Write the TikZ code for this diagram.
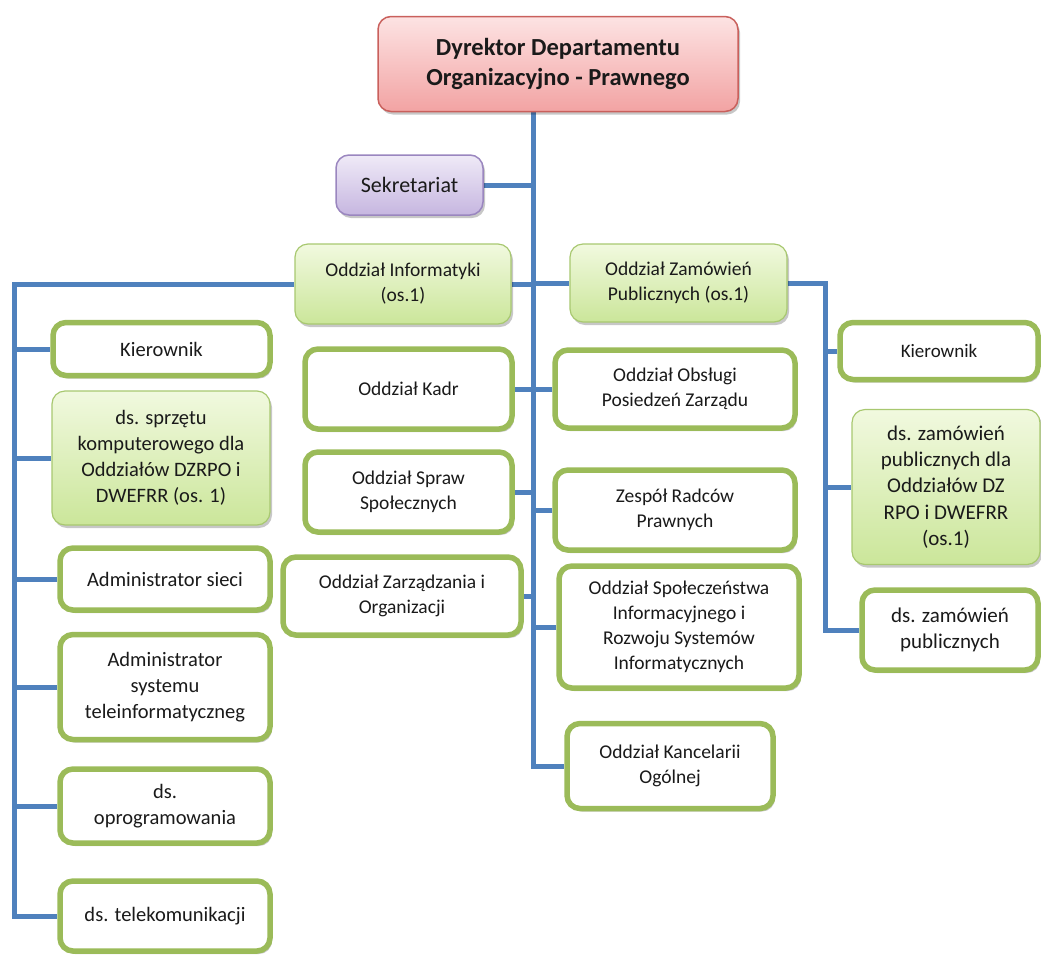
\documentclass[tikz,border=0pt]{standalone}
\usepackage{fontspec}
\setmainfont{Carlito}
\usetikzlibrary{shadows,backgrounds}

\definecolor{linkblue}{HTML}{4F81BD}
\definecolor{greenedge}{HTML}{9BBB59}
\definecolor{greenthin}{HTML}{A8C870}
\definecolor{greentop}{HTML}{F1F9DF}
\definecolor{greenbot}{HTML}{CBE69A}
\definecolor{redtop}{HTML}{FDE3E3}
\definecolor{redbot}{HTML}{F2A3A3}
\definecolor{rededge}{HTML}{C9605C}
\definecolor{purtop}{HTML}{EFEAF7}
\definecolor{purbot}{HTML}{C6B6E0}
\definecolor{puredge}{HTML}{9A86BF}
\definecolor{ink}{HTML}{1A1A1A}

\tikzset{
  base/.style={rectangle, rounded corners=13pt, align=center, inner sep=2pt,
    text=ink, font=\fontsize{19.5}{25}\selectfont,
    drop shadow={shadow xshift=2pt, shadow yshift=-3pt, opacity=0.22, fill=black}},
  plainbox/.style={base, draw=greenedge, line width=5.5pt, fill=white},
  greenbox/.style={base, draw=greenthin, line width=1.2pt, top color=greentop, bottom color=greenbot},
  headbox/.style={base, draw=rededge, line width=1.5pt, top color=redtop, bottom color=redbot,
    font=\fontsize{24.5}{30}\selectfont\bfseries},
  secbox/.style={base, draw=puredge, line width=1.5pt, top color=purtop, bottom color=purbot,
    font=\fontsize{22}{26}\selectfont},
  leftcol/.style={font=\fontsize{20.5}{26}\selectfont},
  rightcol/.style={font=\fontsize{21}{26.3}\selectfont},
  link/.style={draw=linkblue, line width=5pt, line join=miter,
    preaction={draw=black, opacity=0.15, line width=5pt, shift={(1.5,2.5)}}}
}

\begin{document}
\begin{tikzpicture}[x=1pt, y=-1pt]
\useasboundingbox (0,0) rectangle (1041,954);

% bus positions
\coordinate (tx) at (533,0);
\coordinate (lx) at (14,0);
\coordinate (rx) at (825,0);

% head and staff
\node[headbox, minimum width=360pt, minimum height=95pt] (dyr) at (558,64)
  {Dyrektor Departamentu\\Organizacyjno - Prawnego};
\node[secbox, minimum width=147pt, minimum height=60pt] (sek) at (409.5,185) {Sekretariat};

% upper divisions
\node[greenbox, minimum width=216pt, minimum height=80pt] (inf) at (403,284)
  {Oddział Informatyki\\(os.1)};
\node[greenbox, minimum width=217pt, minimum height=78pt] (zam) at (678.5,283)
  {Oddział Zamówień\\Publicznych (os.1)};

% left column: IT staff
\node[plainbox, leftcol, minimum width=217pt, minimum height=53pt] (kierL) at (161.5,349) {Kierownik};
\node[greenbox, leftcol, minimum width=218pt, minimum height=134pt] (sprz) at (161,458)
  {ds. sprzętu\\komputerowego dla\\Oddziałów DZRPO i\\DWEFRR (os. 1)};
\node[plainbox, leftcol, minimum width=210pt, minimum height=62pt] (adms) at (165,579) {Administrator sieci};
\node[plainbox, leftcol, minimum width=210pt, minimum height=105pt] (admt) at (165,687)
  {Administrator\\systemu\\teleinformatyczneg};
\node[plainbox, leftcol, minimum width=210pt, minimum height=74pt] (oprog) at (165,806)
  {ds.\\oprogramowania};
\node[plainbox, leftcol, minimum width=210pt, minimum height=70pt] (tel) at (165,916) {ds. telekomunikacji};

% centre divisions, left side
\node[plainbox, minimum width=207pt, minimum height=80pt] (kadr) at (408.5,389) {Oddział Kadr};
\node[plainbox, minimum width=207pt, minimum height=80pt] (spraw) at (408.5,492)
  {Oddział Spraw\\Społecznych};
\node[plainbox, minimum width=238pt, minimum height=78pt] (zarz) at (402,596)
  {Oddział Zarządzania i\\Organizacji};

% centre divisions, right side
\node[plainbox, minimum width=240pt, minimum height=78pt] (obs) at (675,389)
  {Oddział Obsługi\\Posiedzeń Zarządu};
\node[plainbox, minimum width=240pt, minimum height=80pt] (zesp) at (675,510)
  {Zespół Radców\\Prawnych};
\node[plainbox, minimum width=240pt, minimum height=122pt] (spol) at (679,627)
  {Oddział Społeczeństwa\\Informacyjnego i\\Rozwoju Systemów\\Informatycznych};
\node[plainbox, minimum width=206pt, minimum height=85pt] (kanc) at (670,766)
  {Oddział Kancelarii\\Ogólnej};

% right column: procurement staff
\node[plainbox, font=\fontsize{19}{24}\selectfont, minimum width=198pt, minimum height=57pt] (kierR) at (939,351) {Kierownik};
\node[greenbox, rightcol, minimum width=188pt, minimum height=155pt] (zp1) at (946,487)
  {ds. zamówień\\publicznych dla\\Oddziałów DZ\\RPO i DWEFRR\\(os.1)};
\node[plainbox, rightcol, minimum width=176pt, minimum height=80pt] (zp2) at (950,630)
  {ds. zamówień\\publicznych};

% connectors
\begin{scope}[on background layer]
  \draw[link] (dyr.south -| tx) |- (kanc.west);
  \draw[link] (sek.east) -- (sek.east -| tx);
  \draw[link] (inf.east) -- (inf.east -| tx);
  \draw[link] (zam.west) -- (zam.west -| tx);
  \draw[link] (kadr.east) -- (kadr.east -| tx);
  \draw[link] (obs.west) -- (obs.west -| tx);
  \draw[link] (spraw.east) -- (spraw.east -| tx);
  \draw[link] (zesp.west) -- (zesp.west -| tx);
  \draw[link] (zarz.east) -- (zarz.east -| tx);
  \draw[link] (spol.west) -- (spol.west -| tx);
  % left bus
  \draw[link] (inf.west) -| (lx |- tel.west) -- (tel.west);
  \draw[link] (lx |- kierL.west) -- (kierL.west);
  \draw[link] (lx |- sprz.west) -- (sprz.west);
  \draw[link] (lx |- adms.west) -- (adms.west);
  \draw[link] (lx |- admt.west) -- (admt.west);
  \draw[link] (lx |- oprog.west) -- (oprog.west);
  % right bus
  \draw[link] (zam.east) -| (rx |- zp2.west) -- (zp2.west);
  \draw[link] (rx |- kierR.west) -- (kierR.west);
  \draw[link] (rx |- zp1.west) -- (zp1.west);
\end{scope}
\end{tikzpicture}
\end{document}
